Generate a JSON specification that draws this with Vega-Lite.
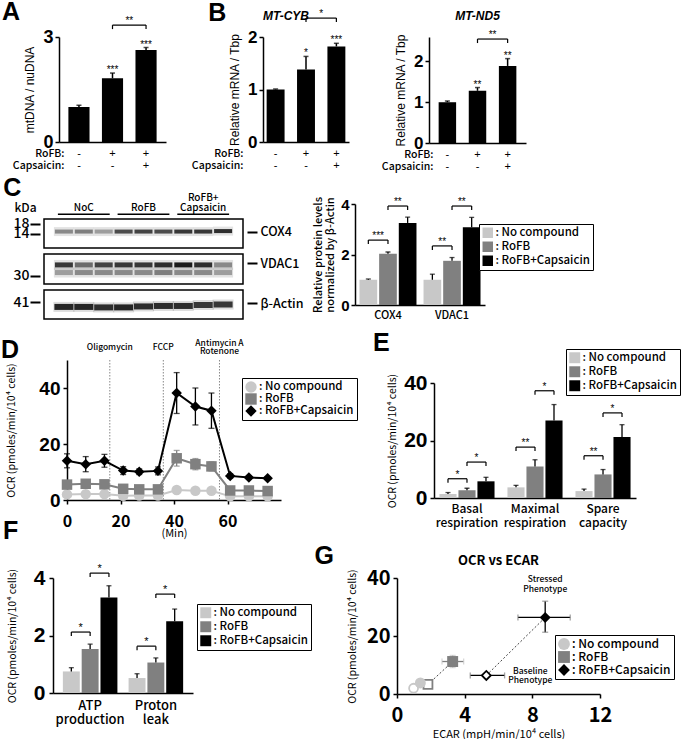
{
"$schema": "https://vega.github.io/schema/vega-lite/v6.json",
"padding": 0,
"background": "white",
"spacing": -20,
"resolve": {"scale": {"color": "independent", "shape": "independent", "opacity": "independent", "stroke": "independent", "fill": "independent", "xOffset": "independent", "x": "independent", "y": "independent"}, "legend": {"color": "independent", "shape": "independent", "opacity": "independent", "stroke": "independent", "fill": "independent"}},
"config": {
  "view": {"stroke": null},
  "font": "Liberation Sans",
  "axis": {"grid": false, "domainColor": "black", "tickColor": "black", "labelColor": "black", "titleColor": "black", "domainWidth": 1.5, "tickWidth": 1.5, "titleFontWeight": "normal", "labelFont": "Liberation Sans", "titleFont": "Liberation Sans", "labelOverlap": false, "labelBound": false, "labelFlush": false},
  "legend": {"labelColor": "black"},
  "title": {"color": "black", "font": "Liberation Sans", "fontWeight": "bold"},
  "text": {"color": "black", "font": "Liberation Sans"}
},
"vconcat": [
 {"hconcat": [
   {"width": 2, "height": 1, "data": {"values": []}, "mark": "point"},
   {
    "width": 107, "height": 105,
    "title": {"text": "A", "anchor": "start", "frame": "group", "dx": -57, "offset": -9, "fontSize": 25},
    "layer": [
     {"data": {"values": [
       {"cond": "NoC", "value": 1.0, "upper": 1.05, "rofb": "-", "cap": "-", "sig": ""},
       {"cond": "RoFB", "value": 1.82, "upper": 1.97, "rofb": "+", "cap": "-", "sig": "***"},
       {"cond": "RoFB+Capsaicin", "value": 2.63, "upper": 2.70, "rofb": "+", "cap": "+", "sig": "***"}]},
      "layer": [
       {"mark": {"type": "bar", "color": "black"},
        "encoding": {
         "x": {"field": "cond", "type": "nominal", "scale": {"domain": ["NoC", "RoFB", "RoFB+Capsaicin"], "paddingInner": 0.37, "paddingOuter": 0.28},
               "axis": {"labels": false, "ticks": false, "title": ["RoFB:", "Capsaicin:"], "titleX": 5, "titleY": 6, "titleAlign": "right", "titleBaseline": "top", "titleFontSize": 10.5, "titleLineHeight": 12, "titleFont": "Noto Sans CJK JP", "titleFontWeight": 500}},
         "y": {"field": "value", "type": "quantitative", "scale": {"domain": [0, 3]},
               "axis": {"values": [0, 1, 2, 3], "labelOverlap": false, "labelFontSize": 18, "labelFontWeight": "bold", "tickSize": 4, "labelPadding": 2, "title": "mtDNA / nuDNA", "titleFontSize": 12, "titlePadding": 6}}}},
       {"mark": {"type": "rule", "color": "black", "strokeWidth": 1.5},
        "encoding": {"x": {"field": "cond", "type": "nominal"}, "y": {"field": "value", "type": "quantitative"}, "y2": {"field": "upper"}}},
       {"mark": {"type": "tick", "orient": "horizontal", "color": "black", "size": 5, "thickness": 1.5},
        "encoding": {"x": {"field": "cond", "type": "nominal"}, "y": {"field": "upper", "type": "quantitative"}}},
       {"mark": {"type": "text", "baseline": "alphabetic", "dy": 0, "fontSize": 10},
        "encoding": {"x": {"field": "cond", "type": "nominal"}, "y": {"field": "upper", "type": "quantitative"}, "text": {"field": "sig"}}},
       {"mark": {"type": "text", "dy": 12, "fontSize": 11},
        "encoding": {"x": {"field": "cond", "type": "nominal"}, "y": {"datum": 0}, "text": {"field": "rofb"}}},
       {"mark": {"type": "text", "dy": 24, "fontSize": 11},
        "encoding": {"x": {"field": "cond", "type": "nominal"}, "y": {"datum": 0}, "text": {"field": "cap"}}}
      ]},
     {"data": {"values": [
       {"id": "a1", "cond": "RoFB", "level": 3.34, "sig": "**", "role": "from"},
       {"id": "a1", "cond": "RoFB+Capsaicin", "level": 3.34, "sig": "**", "role": "to"}]},
      "layer": [
       {"mark": {"type": "line", "color": "black", "strokeWidth": 1.2},
        "encoding": {"x": {"field": "cond", "type": "nominal"}, "y": {"field": "level", "type": "quantitative"}, "detail": {"field": "id"}}},
       {"mark": {"type": "rule", "color": "black", "strokeWidth": 1.2, "y2Offset": 4},
        "encoding": {"x": {"field": "cond", "type": "nominal"}, "y": {"field": "level", "type": "quantitative"}, "y2": {"field": "level"}}},
       {"transform": [{"filter": "datum.role == 'from'"}],
        "mark": {"type": "text", "baseline": "alphabetic", "dy": -1, "dx": 16.8, "fontSize": 10},
        "encoding": {"x": {"field": "cond", "type": "nominal"}, "y": {"field": "level", "type": "quantitative"}, "text": {"field": "sig"}}}
      ]}
    ]
   },
   {"width": 25, "height": 1, "data": {"values": []}, "mark": "point"},
   {"hconcat": [
     {
      "width": 86, "height": 105,
      "title": {"text": "MT-CYB", "anchor": "start", "frame": "group", "fontStyle": "italic", "fontSize": 12, "offset": -14},
      "layer": [
       {"data": {"values": [
         {"cond": "NoC", "value": 1.0, "upper": 1.01, "rofb": "-", "cap": "-", "sig": ""},
         {"cond": "RoFB", "value": 1.38, "upper": 1.63, "rofb": "+", "cap": "-", "sig": "*"},
         {"cond": "RoFB+Capsaicin", "value": 1.82, "upper": 1.88, "rofb": "+", "cap": "+", "sig": "***"}]},
        "layer": [
         {"mark": {"type": "bar", "color": "black"},
          "encoding": {
           "x": {"field": "cond", "type": "nominal", "scale": {"domain": ["NoC", "RoFB", "RoFB+Capsaicin"], "paddingInner": 0.41, "paddingOuter": 0.12},
                 "axis": {"labels": false, "ticks": false, "title": ["RoFB:", "Capsaicin:"], "titleX": -20, "titleY": 6, "titleAlign": "right", "titleBaseline": "top", "titleFontSize": 10.5, "titleLineHeight": 12, "titleFont": "Noto Sans CJK JP", "titleFontWeight": 500}},
           "y": {"field": "value", "type": "quantitative", "scale": {"domain": [0, 2]},
                 "axis": {"values": [0, 0.5, 1, 1.5, 2], "labelOverlap": false, "format": "~g", "labelFontSize": 17, "labelFontWeight": "bold", "tickSize": 4, "labelPadding": 2, "title": "Relative mRNA / Tbp", "titleFontSize": 12, "titlePadding": 6}}}},
         {"mark": {"type": "rule", "color": "black", "strokeWidth": 1.5},
          "encoding": {"x": {"field": "cond", "type": "nominal"}, "y": {"field": "value", "type": "quantitative"}, "y2": {"field": "upper"}}},
         {"mark": {"type": "tick", "orient": "horizontal", "color": "black", "size": 5, "thickness": 1.5},
          "encoding": {"x": {"field": "cond", "type": "nominal"}, "y": {"field": "upper", "type": "quantitative"}}},
         {"mark": {"type": "text", "baseline": "alphabetic", "dy": 0, "fontSize": 10},
          "encoding": {"x": {"field": "cond", "type": "nominal"}, "y": {"field": "upper", "type": "quantitative"}, "text": {"field": "sig"}}},
         {"mark": {"type": "text", "dy": 12, "fontSize": 11},
          "encoding": {"x": {"field": "cond", "type": "nominal"}, "y": {"datum": 0}, "text": {"field": "rofb"}}},
         {"mark": {"type": "text", "dy": 24, "fontSize": 11},
          "encoding": {"x": {"field": "cond", "type": "nominal"}, "y": {"datum": 0}, "text": {"field": "cap"}}}
        ]},
       {"data": {"values": [
         {"id": "b1", "cond": "RoFB", "level": 2.36, "sig": "*", "role": "from"},
         {"id": "b1", "cond": "RoFB+Capsaicin", "level": 2.36, "sig": "*", "role": "to"}]},
        "layer": [
         {"mark": {"type": "line", "color": "black", "strokeWidth": 1.2},
          "encoding": {"x": {"field": "cond", "type": "nominal"}, "y": {"field": "level", "type": "quantitative"}, "detail": {"field": "id"}}},
         {"mark": {"type": "rule", "color": "black", "strokeWidth": 1.2, "y2Offset": 4},
          "encoding": {"x": {"field": "cond", "type": "nominal"}, "y": {"field": "level", "type": "quantitative"}, "y2": {"field": "level"}}},
         {"transform": [{"filter": "datum.role == 'from'"}],
          "mark": {"type": "text", "baseline": "alphabetic", "dy": -1, "dx": 15.2, "fontSize": 10},
          "encoding": {"x": {"field": "cond", "type": "nominal"}, "y": {"field": "level", "type": "quantitative"}, "text": {"field": "sig"}}}
        ]}
      ]
     },
     {
      "width": 97, "height": 106,
      "title": {"text": "MT-ND5", "anchor": "middle", "frame": "group", "fontStyle": "italic", "fontSize": 12, "offset": 7},
      "layer": [
       {"data": {"values": [
         {"cond": "NoC", "value": 1.0, "upper": 1.03, "rofb": "-", "cap": "-", "sig": ""},
         {"cond": "RoFB", "value": 1.28, "upper": 1.36, "rofb": "+", "cap": "-", "sig": "**"},
         {"cond": "RoFB+Capsaicin", "value": 1.89, "upper": 2.07, "rofb": "+", "cap": "+", "sig": "**"}]},
        "layer": [
         {"mark": {"type": "bar", "color": "black"},
          "encoding": {
           "x": {"field": "cond", "type": "nominal", "scale": {"domain": ["NoC", "RoFB", "RoFB+Capsaicin"], "paddingInner": 0.42, "paddingOuter": 0.32},
                 "axis": {"labels": false, "ticks": false, "title": ["RoFB:", "Capsaicin:"], "titleX": 4, "titleY": 6, "titleAlign": "right", "titleBaseline": "top", "titleFontSize": 10.5, "titleLineHeight": 12, "titleFont": "Noto Sans CJK JP", "titleFontWeight": 500}},
           "y": {"field": "value", "type": "quantitative", "scale": {"domain": [0, 2.5]},
                 "axis": {"values": [0, 0.5, 1, 1.5, 2, 2.5], "labelOverlap": false, "format": "~g", "labelFontSize": 17, "labelFontWeight": "bold", "tickSize": 4, "labelPadding": 2, "title": "Relative mRNA / Tbp", "titleFontSize": 12, "titlePadding": 6}}}},
         {"mark": {"type": "rule", "color": "black", "strokeWidth": 1.5},
          "encoding": {"x": {"field": "cond", "type": "nominal"}, "y": {"field": "value", "type": "quantitative"}, "y2": {"field": "upper"}}},
         {"mark": {"type": "tick", "orient": "horizontal", "color": "black", "size": 5, "thickness": 1.5},
          "encoding": {"x": {"field": "cond", "type": "nominal"}, "y": {"field": "upper", "type": "quantitative"}}},
         {"mark": {"type": "text", "baseline": "alphabetic", "dy": 0, "fontSize": 10},
          "encoding": {"x": {"field": "cond", "type": "nominal"}, "y": {"field": "upper", "type": "quantitative"}, "text": {"field": "sig"}}},
         {"mark": {"type": "text", "dy": 12, "fontSize": 11},
          "encoding": {"x": {"field": "cond", "type": "nominal"}, "y": {"datum": 0}, "text": {"field": "rofb"}}},
         {"mark": {"type": "text", "dy": 24, "fontSize": 11},
          "encoding": {"x": {"field": "cond", "type": "nominal"}, "y": {"datum": 0}, "text": {"field": "cap"}}}
        ]},
       {"data": {"values": [
         {"id": "b2", "cond": "RoFB", "level": 2.55, "sig": "**", "role": "from"},
         {"id": "b2", "cond": "RoFB+Capsaicin", "level": 2.55, "sig": "**", "role": "to"}]},
        "layer": [
         {"mark": {"type": "line", "color": "black", "strokeWidth": 1.2},
          "encoding": {"x": {"field": "cond", "type": "nominal"}, "y": {"field": "level", "type": "quantitative"}, "detail": {"field": "id"}}},
         {"mark": {"type": "rule", "color": "black", "strokeWidth": 1.2, "y2Offset": 4},
          "encoding": {"x": {"field": "cond", "type": "nominal"}, "y": {"field": "level", "type": "quantitative"}, "y2": {"field": "level"}}},
         {"transform": [{"filter": "datum.role == 'from'"}],
          "mark": {"type": "text", "baseline": "alphabetic", "dy": -1, "dx": 15.1, "fontSize": 10},
          "encoding": {"x": {"field": "cond", "type": "nominal"}, "y": {"field": "level", "type": "quantitative"}, "text": {"field": "sig"}}}
        ]}
      ]
     }
    ],
    "spacing": 32,
    "resolve": {"scale": {"color": "independent", "shape": "independent", "opacity": "independent", "stroke": "independent", "fill": "independent", "xOffset": "independent", "x": "independent", "y": "independent"}, "legend": {"color": "independent", "shape": "independent", "opacity": "independent", "stroke": "independent", "fill": "independent"}},
    "title": {"text": "B", "anchor": "start", "frame": "bounds", "fontSize": 25, "dx": 17, "offset": 0, "dy": 17}
   }
  ],
  "spacing": 0,
  "resolve": {"scale": {"color": "independent", "shape": "independent", "opacity": "independent", "stroke": "independent", "fill": "independent", "xOffset": "independent", "x": "independent", "y": "independent"}, "legend": {"color": "independent", "shape": "independent", "opacity": "independent", "stroke": "independent", "fill": "independent"}}
 },
 {"width": 1, "height": 24, "data": {"values": []}, "mark": "point"},
 {"hconcat": [
   {"width": 3, "height": 1, "data": {"values": []}, "mark": "point"},
   {"vconcat": [
     {"width": 1, "height": 1, "data": {"values": []}, "mark": "point"},
     {"vconcat": [
       {
        "width": 199, "height": 29,
        "view": {"stroke": "black", "strokeWidth": 1.5},
        "layer": [
         {"data": {"values": [
           {"lane": 1, "kda": 14.8, "int": 0.45}, {"lane": 2, "kda": 14.8, "int": 0.5}, {"lane": 3, "kda": 14.8, "int": 0.35},
           {"lane": 4, "kda": 14.8, "int": 0.75}, {"lane": 5, "kda": 14.8, "int": 0.8}, {"lane": 6, "kda": 14.8, "int": 0.75},
           {"lane": 7, "kda": 14.8, "int": 0.85}, {"lane": 8, "kda": 14.8, "int": 0.85}, {"lane": 9, "kda": 15.0, "int": 0.9}]},
          "layer": [
           {"mark": {"type": "tick", "orient": "horizontal", "size": 20, "thickness": 9, "color": "#1a1a1a", "opacity": 0.12},
            "encoding": {"x": {"field": "lane", "type": "quantitative", "scale": {"domain": [0.5, 9.5]}, "axis": null},
                         "y": {"field": "kda", "type": "quantitative", "scale": {"domain": [8, 19.6]}, "axis": {"orient": "left", "values": [14, 18], "tickSize": 10, "tickWidth": 2, "offset": 4, "domain": false, "labelFontSize": 14, "labelFont": "Noto Sans CJK JP", "labelFontWeight": 500, "labelPadding": 1, "title": "kDa", "titleAngle": 0, "titleX": -15, "titleY": -12, "titleAlign": "center", "titleBaseline": "middle", "titleFontSize": 12, "titleFont": "Noto Sans CJK JP", "titleFontWeight": 500}}}},
           {"mark": {"type": "tick", "orient": "horizontal", "size": 18, "thickness": 4, "color": "#1a1a1a"},
            "encoding": {"x": {"field": "lane", "type": "quantitative", "axis": null},
                         "y": {"field": "kda", "type": "quantitative", "axis": {"orient": "right", "values": [14.8], "labelExpr": "'COX4'", "tickSize": 10, "tickWidth": 2, "offset": 4, "domain": false, "labelFontSize": 12.5, "labelFont": "Noto Sans CJK JP", "labelFontWeight": 500, "labelPadding": 3, "title": null}},
                         "opacity": {"field": "int", "type": "quantitative", "scale": {"domain": [0, 1], "range": [0, 1]}, "legend": null}}}
          ]},
         {"data": {"values": [
           {"grp": "NoC", "first": 1, "mid": 2, "last": 3, "line1": "", "line2": "NoC"},
           {"grp": "RoFB", "first": 4, "mid": 5, "last": 6, "line1": "", "line2": "RoFB"},
           {"grp": "RoFB+Capsaicin", "first": 7, "mid": 8, "last": 9, "line1": "RoFB+", "line2": "Capsaicin"}]},
          "layer": [
           {"mark": {"type": "rule", "color": "black", "strokeWidth": 1.5, "xOffset": -6, "x2Offset": 6},
            "encoding": {"x": {"field": "first", "type": "quantitative", "axis": null}, "x2": {"field": "last"}, "y": {"datum": 22.0, "type": "quantitative", "axis": null}}},
           {"mark": {"type": "text", "baseline": "middle", "dy": -6, "fontSize": 10, "font": "Noto Sans CJK JP", "fontWeight": 500},
            "encoding": {"x": {"field": "mid", "type": "quantitative", "axis": null}, "y": {"datum": 22.0, "type": "quantitative", "axis": null}, "text": {"field": "line2"}}},
           {"mark": {"type": "text", "baseline": "middle", "dy": -16, "fontSize": 10, "font": "Noto Sans CJK JP", "fontWeight": 500},
            "encoding": {"x": {"field": "mid", "type": "quantitative", "axis": null}, "y": {"datum": 22.0, "type": "quantitative", "axis": null}, "text": {"field": "line1"}}}
          ]}
        ],
        "resolve": {"axis": {"y": "independent"}}
       },
       {
        "width": 199, "height": 30,
        "view": {"stroke": "black", "strokeWidth": 1.5},
        "data": {"values": [
          {"lane": 1, "kda": 32.0, "int": 0.85}, {"lane": 2, "kda": 32.0, "int": 0.6}, {"lane": 3, "kda": 32.0, "int": 0.8},
          {"lane": 4, "kda": 32.0, "int": 0.85}, {"lane": 5, "kda": 32.0, "int": 0.85}, {"lane": 6, "kda": 32.0, "int": 0.9},
          {"lane": 7, "kda": 32.0, "int": 1.0}, {"lane": 8, "kda": 32.0, "int": 0.9}, {"lane": 9, "kda": 32.0, "int": 0.45},
          {"lane": 1, "kda": 30.6, "int": 0.35}, {"lane": 2, "kda": 30.6, "int": 0.45}, {"lane": 3, "kda": 30.6, "int": 0.45},
          {"lane": 4, "kda": 30.6, "int": 0.45}, {"lane": 5, "kda": 30.6, "int": 0.45}, {"lane": 6, "kda": 30.6, "int": 0.5},
          {"lane": 7, "kda": 30.6, "int": 0.45}, {"lane": 8, "kda": 30.6, "int": 0.45}, {"lane": 9, "kda": 30.6, "int": 0.35}]},
        "layer": [
         {"mark": {"type": "tick", "orient": "horizontal", "size": 20, "thickness": 10, "color": "#1a1a1a", "opacity": 0.12},
          "encoding": {"x": {"field": "lane", "type": "quantitative", "scale": {"domain": [0.5, 9.5]}, "axis": null},
                       "y": {"field": "kda", "type": "quantitative", "scale": {"domain": [28.67, 33.67]}, "axis": {"orient": "left", "values": [30], "tickSize": 10, "tickWidth": 2, "offset": 4, "domain": false, "labelFontSize": 14, "labelFont": "Noto Sans CJK JP", "labelFontWeight": 500, "labelPadding": 1, "title": null}}}},
         {"mark": {"type": "tick", "orient": "horizontal", "size": 18, "thickness": 5, "color": "#1a1a1a"},
          "encoding": {"x": {"field": "lane", "type": "quantitative", "axis": null},
                       "y": {"field": "kda", "type": "quantitative", "axis": {"orient": "right", "values": [32.33], "labelExpr": "'VDAC1'", "tickSize": 10, "tickWidth": 2, "offset": 4, "domain": false, "labelFontSize": 12.5, "labelFont": "Noto Sans CJK JP", "labelFontWeight": 500, "labelPadding": 3, "title": null}},
                       "opacity": {"field": "int", "type": "quantitative", "scale": {"domain": [0, 1], "range": [0, 1]}, "legend": null}}}
        ],
        "resolve": {"axis": {"y": "independent"}}
       },
       {
        "width": 199, "height": 29,
        "view": {"stroke": "black", "strokeWidth": 1.5},
        "data": {"values": [
          {"lane": 1, "kda": 40.0, "int": 0.95}, {"lane": 2, "kda": 40.0, "int": 0.95}, {"lane": 3, "kda": 39.9, "int": 0.9},
          {"lane": 4, "kda": 39.9, "int": 0.95}, {"lane": 5, "kda": 40.1, "int": 0.9}, {"lane": 6, "kda": 40.2, "int": 0.9},
          {"lane": 7, "kda": 40.2, "int": 0.9}, {"lane": 8, "kda": 40.4, "int": 0.85}, {"lane": 9, "kda": 40.5, "int": 0.85}]},
        "layer": [
         {"mark": {"type": "tick", "orient": "horizontal", "size": 21, "thickness": 10, "color": "#1a1a1a", "opacity": 0.15},
          "encoding": {"x": {"field": "lane", "type": "quantitative", "scale": {"domain": [0.5, 9.5]}, "axis": null},
                       "y": {"field": "kda", "type": "quantitative", "scale": {"domain": [37.6, 43.4]}, "axis": {"orient": "left", "values": [41], "tickSize": 10, "tickWidth": 2, "offset": 4, "domain": false, "labelFontSize": 14, "labelFont": "Noto Sans CJK JP", "labelFontWeight": 500, "labelPadding": 1, "title": null}}}},
         {"mark": {"type": "tick", "orient": "horizontal", "size": 19, "thickness": 6, "color": "#1a1a1a"},
          "encoding": {"x": {"field": "lane", "type": "quantitative", "axis": null},
                       "y": {"field": "kda", "type": "quantitative", "axis": {"orient": "right", "values": [40.8], "labelExpr": "'β-Actin'", "tickSize": 10, "tickWidth": 2, "offset": 4, "domain": false, "labelFontSize": 12.5, "labelFont": "Noto Sans CJK JP", "labelFontWeight": 500, "labelPadding": 3, "title": null}},
                       "opacity": {"field": "int", "type": "quantitative", "scale": {"domain": [0, 1], "range": [0, 1]}, "legend": null}}}
        ],
        "resolve": {"axis": {"y": "independent"}}
       }
      ],
      "spacing": 4,
      "resolve": {"scale": {"color": "independent", "shape": "independent", "opacity": "independent", "stroke": "independent", "fill": "independent", "xOffset": "independent", "x": "independent", "y": "independent"}, "legend": {"color": "independent", "shape": "independent", "opacity": "independent", "stroke": "independent", "fill": "independent"}},
      "title": {"text": "C", "anchor": "start", "frame": "bounds", "fontSize": 25, "dx": -9, "offset": 0, "dy": 9}
     }
    ],
    "spacing": -29,
    "resolve": {"scale": {"color": "independent", "shape": "independent", "opacity": "independent", "stroke": "independent", "fill": "independent", "xOffset": "independent", "x": "independent", "y": "independent"}, "legend": {"color": "independent", "shape": "independent", "opacity": "independent", "stroke": "independent", "fill": "independent"}}
   },
   {"width": 8, "height": 1, "data": {"values": []}, "mark": "point"},
   {
    "width": 130, "height": 101,
    "layer": [
     {"data": {"values": [
       {"grp": "COX4", "cond": "No compound", "value": 1.0, "upper": 1.03},
       {"grp": "COX4", "cond": "RoFB", "value": 2.03, "upper": 2.1},
       {"grp": "COX4", "cond": "RoFB+Capsaicin", "value": 3.25, "upper": 3.48},
       {"grp": "VDAC1", "cond": "No compound", "value": 1.0, "upper": 1.22},
       {"grp": "VDAC1", "cond": "RoFB", "value": 1.75, "upper": 1.88},
       {"grp": "VDAC1", "cond": "RoFB+Capsaicin", "value": 3.08, "upper": 3.47}]},
      "layer": [
       {"mark": {"type": "bar"},
        "encoding": {
         "x": {"field": "grp", "type": "nominal", "scale": {"domain": ["COX4", "VDAC1"], "paddingInner": 0.11, "paddingOuter": 0.07},
               "axis": {"title": null, "ticks": false, "labelAngle": 0, "labelFontSize": 11, "labelFont": "Noto Sans CJK JP", "labelFontWeight": 500, "labelPadding": 4}},
         "xOffset": {"field": "cond", "type": "nominal", "scale": {"domain": ["No compound", "RoFB", "RoFB+Capsaicin"], "paddingInner": 0.1, "paddingOuter": 0}},
         "y": {"field": "value", "type": "quantitative", "stack": null, "scale": {"domain": [0, 4]},
               "axis": {"values": [0, 1, 2, 3, 4], "labelOverlap": false, "labelFontSize": 15, "labelFontWeight": "bold", "tickSize": 4, "labelPadding": 2, "title": ["Relative protein levels", "normalized by β-Actin"], "titleFontSize": 11, "titleFont": "Noto Sans CJK JP", "titleFontWeight": 500, "titleLineHeight": 12, "titlePadding": 5}},
         "color": {"field": "cond", "type": "nominal", "scale": {"domain": ["No compound", "RoFB", "RoFB+Capsaicin"], "range": ["#c8c8c8", "#808080", "#000000"]},
                   "legend": {"orient": "none", "legendX": 124, "legendY": 20, "title": null, "symbolType": "square", "symbolSize": 110, "symbolStrokeWidth": 0, "labelExpr": "': ' + datum.label", "labelFontSize": 11.5, "labelFont": "Noto Sans CJK JP", "labelFontWeight": 500, "strokeColor": "black", "fillColor": "white", "padding": 3, "rowPadding": 1, "labelOffset": 2}}}},
       {"mark": {"type": "rule", "color": "black", "strokeWidth": 1.3},
        "encoding": {"x": {"field": "grp", "type": "nominal"}, "xOffset": {"field": "cond", "type": "nominal"}, "y": {"field": "value", "type": "quantitative"}, "y2": {"field": "upper"}}},
       {"mark": {"type": "tick", "orient": "horizontal", "color": "black", "size": 5, "thickness": 1.3},
        "encoding": {"x": {"field": "grp", "type": "nominal"}, "xOffset": {"field": "cond", "type": "nominal"}, "y": {"field": "upper", "type": "quantitative"}}}
      ]},
     {"data": {"values": [
       {"id": "c1", "grp": "COX4", "cond": "No compound", "level": 2.57, "sig": "***", "role": "from"},
       {"id": "c1", "grp": "COX4", "cond": "RoFB", "level": 2.57, "sig": "***", "role": "to"},
       {"id": "c2", "grp": "COX4", "cond": "RoFB", "level": 3.92, "sig": "**", "role": "from"},
       {"id": "c2", "grp": "COX4", "cond": "RoFB+Capsaicin", "level": 3.92, "sig": "**", "role": "to"},
       {"id": "v1", "grp": "VDAC1", "cond": "No compound", "level": 2.34, "sig": "**", "role": "from"},
       {"id": "v1", "grp": "VDAC1", "cond": "RoFB", "level": 2.34, "sig": "**", "role": "to"},
       {"id": "v2", "grp": "VDAC1", "cond": "RoFB", "level": 3.92, "sig": "**", "role": "from"},
       {"id": "v2", "grp": "VDAC1", "cond": "RoFB+Capsaicin", "level": 3.92, "sig": "**", "role": "to"}]},
      "layer": [
       {"mark": {"type": "line", "color": "black", "strokeWidth": 1.2},
        "encoding": {"x": {"field": "grp", "type": "nominal"}, "xOffset": {"field": "cond", "type": "nominal"}, "y": {"field": "level", "type": "quantitative"}, "detail": {"field": "id"}}},
       {"mark": {"type": "rule", "color": "black", "strokeWidth": 1.2, "y2Offset": 4},
        "encoding": {"x": {"field": "grp", "type": "nominal"}, "xOffset": {"field": "cond", "type": "nominal"}, "y": {"field": "level", "type": "quantitative"}, "y2": {"field": "level"}}},
       {"transform": [{"filter": "datum.role == 'from'"}],
        "mark": {"type": "text", "baseline": "alphabetic", "dy": -1, "dx": 9.8, "fontSize": 10},
        "encoding": {"x": {"field": "grp", "type": "nominal"}, "xOffset": {"field": "cond", "type": "nominal"}, "y": {"field": "level", "type": "quantitative"}, "text": {"field": "sig"}}}
      ]}
    ]
   }
  ],
  "spacing": 0,
  "resolve": {"scale": {"color": "independent", "shape": "independent", "opacity": "independent", "stroke": "independent", "fill": "independent", "xOffset": "independent", "x": "independent", "y": "independent"}, "legend": {"color": "independent", "shape": "independent", "opacity": "independent", "stroke": "independent", "fill": "independent"}}
 },
 {"width": 1, "height": 30, "data": {"values": []}, "mark": "point"},
 {"hconcat": [
   {"width": 1, "height": 1, "data": {"values": []}, "mark": "point"},
   {
    "width": 214, "height": 140,
    "title": {"text": "D", "anchor": "start", "frame": "group", "dx": -66, "offset": 2, "dy": 26, "fontSize": 25},
    "layer": [
     {"data": {"values": [
       {"t": 16, "top": "", "mid": "Oligomycin", "bot": ""},
       {"t": 36, "top": "", "mid": "FCCP", "bot": ""},
       {"t": 57, "top": "Antimycin A", "mid": "", "bot": "Rotenone"}]},
      "layer": [
       {"mark": {"type": "rule", "color": "#888888", "strokeWidth": 1, "strokeDash": [1.5, 1.5]},
        "encoding": {"x": {"field": "t", "type": "quantitative"}}},
       {"mark": {"type": "text", "baseline": "middle", "dy": -17, "fontSize": 8.5, "font": "Noto Sans CJK JP", "fontWeight": 500},
        "encoding": {"x": {"field": "t", "type": "quantitative"}, "y": {"datum": 50, "type": "quantitative"}, "text": {"field": "top"}}},
       {"mark": {"type": "text", "baseline": "middle", "dy": -13, "fontSize": 8.5, "font": "Noto Sans CJK JP", "fontWeight": 500},
        "encoding": {"x": {"field": "t", "type": "quantitative"}, "y": {"datum": 50, "type": "quantitative"}, "text": {"field": "mid"}}},
       {"mark": {"type": "text", "baseline": "middle", "dy": -9.5, "fontSize": 8.5, "font": "Noto Sans CJK JP", "fontWeight": 500},
        "encoding": {"x": {"field": "t", "type": "quantitative"}, "y": {"datum": 50, "type": "quantitative"}, "text": {"field": "bot"}}}
      ]},
     {"data": {"values": [
       {"s": "No compound", "t": 0, "v": 2.0, "lo": 1.7, "hi": 2.3},
       {"s": "No compound", "t": 7, "v": 2.1, "lo": 1.8, "hi": 2.4},
       {"s": "No compound", "t": 14, "v": 2.1, "lo": 1.8, "hi": 2.4},
       {"s": "No compound", "t": 21, "v": 1.5, "lo": 1.2, "hi": 1.8},
       {"s": "No compound", "t": 27, "v": 1.6, "lo": 1.3, "hi": 1.9},
       {"s": "No compound", "t": 34, "v": 1.6, "lo": 1.3, "hi": 1.9},
       {"s": "No compound", "t": 41, "v": 3.6, "lo": 3.2, "hi": 4.0},
       {"s": "No compound", "t": 48, "v": 3.3, "lo": 2.9, "hi": 3.7},
       {"s": "No compound", "t": 54, "v": 3.3, "lo": 2.9, "hi": 3.7},
       {"s": "No compound", "t": 61, "v": 1.3, "lo": 1.0, "hi": 1.6},
       {"s": "No compound", "t": 68, "v": 1.3, "lo": 1.0, "hi": 1.6},
       {"s": "No compound", "t": 75, "v": 1.3, "lo": 1.0, "hi": 1.6},
       {"s": "RoFB", "t": 0, "v": 5.5, "lo": 4.6, "hi": 6.4},
       {"s": "RoFB", "t": 7, "v": 5.8, "lo": 4.9, "hi": 6.7},
       {"s": "RoFB", "t": 14, "v": 5.6, "lo": 4.7, "hi": 6.5},
       {"s": "RoFB", "t": 21, "v": 4.0, "lo": 3.4, "hi": 4.6},
       {"s": "RoFB", "t": 27, "v": 3.8, "lo": 3.2, "hi": 4.4},
       {"s": "RoFB", "t": 34, "v": 3.8, "lo": 3.2, "hi": 4.4},
       {"s": "RoFB", "t": 41, "v": 14.9, "lo": 12.1, "hi": 17.7},
       {"s": "RoFB", "t": 48, "v": 12.8, "lo": 10.8, "hi": 14.8},
       {"s": "RoFB", "t": 54, "v": 12.0, "lo": 10.4, "hi": 13.6},
       {"s": "RoFB", "t": 61, "v": 3.4, "lo": 2.9, "hi": 3.9},
       {"s": "RoFB", "t": 68, "v": 3.4, "lo": 2.9, "hi": 3.9},
       {"s": "RoFB", "t": 75, "v": 3.2, "lo": 2.7, "hi": 3.7},
       {"s": "RoFB+Capsaicin", "t": 0, "v": 14.0, "lo": 11.5, "hi": 16.5},
       {"s": "RoFB+Capsaicin", "t": 7, "v": 12.8, "lo": 10.1, "hi": 15.5},
       {"s": "RoFB+Capsaicin", "t": 14, "v": 14.0, "lo": 11.7, "hi": 16.3},
       {"s": "RoFB+Capsaicin", "t": 21, "v": 10.5, "lo": 9.1, "hi": 11.9},
       {"s": "RoFB+Capsaicin", "t": 27, "v": 10.1, "lo": 9.1, "hi": 11.1},
       {"s": "RoFB+Capsaicin", "t": 34, "v": 10.4, "lo": 9.0, "hi": 11.8},
       {"s": "RoFB+Capsaicin", "t": 41, "v": 38.2, "lo": 30.9, "hi": 45.5},
       {"s": "RoFB+Capsaicin", "t": 48, "v": 33.4, "lo": 26.8, "hi": 40.0},
       {"s": "RoFB+Capsaicin", "t": 54, "v": 31.9, "lo": 25.6, "hi": 38.2},
       {"s": "RoFB+Capsaicin", "t": 61, "v": 8.6, "lo": 7.8, "hi": 9.4},
       {"s": "RoFB+Capsaicin", "t": 68, "v": 8.0, "lo": 7.5, "hi": 8.5},
       {"s": "RoFB+Capsaicin", "t": 75, "v": 7.8, "lo": 7.3, "hi": 8.3}]},
      "layer": [
       {"mark": {"type": "line", "strokeWidth": 2},
        "encoding": {
         "x": {"field": "t", "type": "quantitative", "scale": {"domain": [0, 77]},
               "axis": {"values": [0, 10, 20, 30, 40, 50, 60, 70], "labelOverlap": false, "labelFontSize": 16, "labelFont": "Noto Sans CJK JP", "labelFontWeight": "bold", "tickSize": 4, "labelPadding": 9, "title": "(Min)", "titleFont": "Noto Sans CJK JP", "titleFontSize": 11, "titlePadding": -2}},
         "y": {"field": "v", "type": "quantitative", "scale": {"domain": [0, 50]},
               "axis": {"values": [0, 10, 20, 30, 40, 50], "labelOverlap": false, "labelFontSize": 19, "labelFontWeight": "bold", "tickSize": 4, "labelPadding": 3, "title": "OCR (pmoles/min/10⁴ cells)", "titleFont": "Noto Sans CJK JP", "titleFontSize": 10.5, "titlePadding": 22}},
         "stroke": {"field": "s", "type": "nominal", "scale": {"range": ["#c8c8c8", "#808080", "#000000"]}, "legend": null}}},
       {"mark": {"type": "rule", "strokeWidth": 1.3},
        "encoding": {"x": {"field": "t", "type": "quantitative"}, "y": {"field": "lo", "type": "quantitative"}, "y2": {"field": "hi"}, "stroke": {"field": "s", "type": "nominal", "legend": null}}},
       {"mark": {"type": "tick", "orient": "horizontal", "size": 6, "thickness": 1.3},
        "encoding": {"x": {"field": "t", "type": "quantitative"}, "y": {"field": "lo", "type": "quantitative"}, "fill": {"field": "s", "type": "nominal", "scale": {"range": ["#c8c8c8", "#808080", "#000000"]}, "legend": null}}},
       {"mark": {"type": "tick", "orient": "horizontal", "size": 6, "thickness": 1.3},
        "encoding": {"x": {"field": "t", "type": "quantitative"}, "y": {"field": "hi", "type": "quantitative"}, "fill": {"field": "s", "type": "nominal", "legend": null}}},
       {"mark": {"type": "point", "filled": true, "size": 110, "opacity": 1},
        "encoding": {"x": {"field": "t", "type": "quantitative"}, "y": {"field": "v", "type": "quantitative"},
         "color": {"field": "s", "type": "nominal", "scale": {"domain": ["No compound", "RoFB", "RoFB+Capsaicin"], "range": ["#c8c8c8", "#808080", "#000000"]}, "legend": {"orient": "none", "legendX": 175, "legendY": 18, "title": null, "labelExpr": "': ' + datum.label", "labelFont": "Noto Sans CJK JP", "labelFontWeight": 500, "labelFontSize": 11.5, "symbolSize": 130, "symbolStrokeWidth": 0, "strokeColor": "black", "fillColor": "white", "padding": 3, "rowPadding": 0, "labelOffset": 2}},
         "shape": {"field": "s", "type": "nominal", "scale": {"domain": ["No compound", "RoFB", "RoFB+Capsaicin"], "range": ["circle", "square", "diamond"]}, "legend": {"orient": "none", "legendX": 175, "legendY": 18, "title": null, "labelExpr": "': ' + datum.label", "labelFont": "Noto Sans CJK JP", "labelFontWeight": 500, "labelFontSize": 11.5, "symbolSize": 130, "symbolStrokeWidth": 0, "strokeColor": "black", "fillColor": "white", "padding": 3, "rowPadding": 0, "labelOffset": 2}}}}
      ]}
    ]
   },
   {"width": 15, "height": 1, "data": {"values": []}, "mark": "point"},
   {"vconcat": [
     {"width": 1, "height": 1, "data": {"values": []}, "mark": "point"},
     {
      "width": 202, "height": 115,
      "title": {"text": "E", "anchor": "start", "frame": "group", "dx": -61, "offset": -7, "fontSize": 25},
      "layer": [
       {"data": {"values": [
         {"grp": "Basal respiration", "cond": "No compound", "value": 1.4, "upper": 1.9},
         {"grp": "Basal respiration", "cond": "RoFB", "value": 2.7, "upper": 3.4},
         {"grp": "Basal respiration", "cond": "RoFB+Capsaicin", "value": 5.8, "upper": 7.2},
         {"grp": "Maximal respiration", "cond": "No compound", "value": 3.7, "upper": 4.4},
         {"grp": "Maximal respiration", "cond": "RoFB", "value": 11.0, "upper": 13.3},
         {"grp": "Maximal respiration", "cond": "RoFB+Capsaicin", "value": 27.0, "upper": 32.5},
         {"grp": "Spare capacity", "cond": "No compound", "value": 2.4, "upper": 3.1},
         {"grp": "Spare capacity", "cond": "RoFB", "value": 8.2, "upper": 9.9},
         {"grp": "Spare capacity", "cond": "RoFB+Capsaicin", "value": 21.2, "upper": 25.5}]},
        "layer": [
         {"mark": {"type": "bar"},
          "encoding": {
           "x": {"field": "grp", "type": "nominal", "scale": {"domain": ["Basal respiration", "Maximal respiration", "Spare capacity"], "paddingInner": 0.19, "paddingOuter": 0.08},
                 "axis": {"title": null, "ticks": false, "labelAngle": 0, "labelExpr": "split(datum.label, ' ')", "labelFontSize": 12, "labelLineHeight": 14, "labelFont": "Noto Sans CJK JP", "labelFontWeight": 500, "labelPadding": 5}},
           "xOffset": {"field": "cond", "type": "nominal", "scale": {"domain": ["No compound", "RoFB", "RoFB+Capsaicin"], "paddingInner": 0.1, "paddingOuter": 0}},
           "y": {"field": "value", "type": "quantitative", "stack": null, "scale": {"domain": [0, 40]},
                 "axis": {"values": [0, 10, 20, 30, 40], "labelOverlap": false, "labelFontSize": 21, "labelFontWeight": "bold", "tickSize": 4, "labelPadding": 3, "title": "OCR (pmoles/min/10⁴ cells)", "titleFont": "Noto Sans CJK JP", "titleFontSize": 10.5, "titlePadding": 6}},
           "color": {"field": "cond", "type": "nominal", "scale": {"domain": ["No compound", "RoFB", "RoFB+Capsaicin"], "range": ["#c8c8c8", "#808080", "#000000"]},
                     "legend": {"orient": "none", "legendX": 132, "legendY": -34, "title": null, "symbolType": "square", "symbolSize": 120, "symbolStrokeWidth": 0, "labelExpr": "': ' + datum.label", "labelFontSize": 11.5, "labelFont": "Noto Sans CJK JP", "labelFontWeight": 500, "strokeColor": "black", "fillColor": "white", "padding": 3, "rowPadding": 1, "labelOffset": 2}}}},
         {"mark": {"type": "rule", "color": "black", "strokeWidth": 1.3},
          "encoding": {"x": {"field": "grp", "type": "nominal"}, "xOffset": {"field": "cond", "type": "nominal"}, "y": {"field": "value", "type": "quantitative"}, "y2": {"field": "upper"}}},
         {"mark": {"type": "tick", "orient": "horizontal", "color": "black", "size": 5, "thickness": 1.3},
          "encoding": {"x": {"field": "grp", "type": "nominal"}, "xOffset": {"field": "cond", "type": "nominal"}, "y": {"field": "upper", "type": "quantitative"}}}
        ]},
       {"data": {"values": [
         {"id": "e1", "grp": "Basal respiration", "cond": "No compound", "level": 6.7, "sig": "*", "role": "from"},
         {"id": "e1", "grp": "Basal respiration", "cond": "RoFB", "level": 6.7, "sig": "*", "role": "to"},
         {"id": "e2", "grp": "Basal respiration", "cond": "RoFB", "level": 12.5, "sig": "*", "role": "from"},
         {"id": "e2", "grp": "Basal respiration", "cond": "RoFB+Capsaicin", "level": 12.5, "sig": "*", "role": "to"},
         {"id": "e3", "grp": "Maximal respiration", "cond": "No compound", "level": 17.7, "sig": "**", "role": "from"},
         {"id": "e3", "grp": "Maximal respiration", "cond": "RoFB", "level": 17.7, "sig": "**", "role": "to"},
         {"id": "e4", "grp": "Maximal respiration", "cond": "RoFB", "level": 37.3, "sig": "*", "role": "from"},
         {"id": "e4", "grp": "Maximal respiration", "cond": "RoFB+Capsaicin", "level": 37.3, "sig": "*", "role": "to"},
         {"id": "e5", "grp": "Spare capacity", "cond": "No compound", "level": 14.7, "sig": "**", "role": "from"},
         {"id": "e5", "grp": "Spare capacity", "cond": "RoFB", "level": 14.7, "sig": "**", "role": "to"},
         {"id": "e6", "grp": "Spare capacity", "cond": "RoFB", "level": 29.6, "sig": "*", "role": "from"},
         {"id": "e6", "grp": "Spare capacity", "cond": "RoFB+Capsaicin", "level": 29.6, "sig": "*", "role": "to"}]},
        "layer": [
         {"mark": {"type": "line", "color": "black", "strokeWidth": 1.2},
          "encoding": {"x": {"field": "grp", "type": "nominal"}, "xOffset": {"field": "cond", "type": "nominal"}, "y": {"field": "level", "type": "quantitative"}, "detail": {"field": "id"}}},
         {"mark": {"type": "rule", "color": "black", "strokeWidth": 1.2, "y2Offset": 4},
          "encoding": {"x": {"field": "grp", "type": "nominal"}, "xOffset": {"field": "cond", "type": "nominal"}, "y": {"field": "level", "type": "quantitative"}, "y2": {"field": "level"}}},
         {"transform": [{"filter": "datum.role == 'from'"}],
          "mark": {"type": "text", "baseline": "alphabetic", "dy": -1, "dx": 9.5, "fontSize": 10},
          "encoding": {"x": {"field": "grp", "type": "nominal"}, "xOffset": {"field": "cond", "type": "nominal"}, "y": {"field": "level", "type": "quantitative"}, "text": {"field": "sig"}}}
        ]}
      ]
     }
    ],
    "spacing": -31,
    "resolve": {"scale": {"color": "independent", "shape": "independent", "opacity": "independent", "stroke": "independent", "fill": "independent", "xOffset": "independent", "x": "independent", "y": "independent"}, "legend": {"color": "independent", "shape": "independent", "opacity": "independent", "stroke": "independent", "fill": "independent"}}
   }
  ],
  "spacing": 0,
  "resolve": {"scale": {"color": "independent", "shape": "independent", "opacity": "independent", "stroke": "independent", "fill": "independent", "xOffset": "independent", "x": "independent", "y": "independent"}, "legend": {"color": "independent", "shape": "independent", "opacity": "independent", "stroke": "independent", "fill": "independent"}}
 },
 {"width": 1, "height": 1, "data": {"values": []}, "mark": "point"},
 {"hconcat": [
   {"width": 3, "height": 1, "data": {"values": []}, "mark": "point"},
   {
    "width": 140, "height": 115,
    "title": {"text": "F", "anchor": "start", "frame": "group", "dx": -50, "offset": 18, "dy": -1, "fontSize": 25},
    "layer": [
     {"data": {"values": [
       {"grp": "ATP production", "cond": "No compound", "value": 0.75, "upper": 0.88},
       {"grp": "ATP production", "cond": "RoFB", "value": 1.53, "upper": 1.70},
       {"grp": "ATP production", "cond": "RoFB+Capsaicin", "value": 3.32, "upper": 3.73},
       {"grp": "Proton leak", "cond": "No compound", "value": 0.52, "upper": 0.67},
       {"grp": "Proton leak", "cond": "RoFB", "value": 1.06, "upper": 1.22},
       {"grp": "Proton leak", "cond": "RoFB+Capsaicin", "value": 2.50, "upper": 2.92}]},
      "layer": [
       {"mark": {"type": "bar"},
        "encoding": {
         "x": {"field": "grp", "type": "nominal", "scale": {"domain": ["ATP production", "Proton leak"], "paddingInner": 0.17, "paddingOuter": 0.15},
               "axis": {"title": null, "ticks": false, "labelAngle": 0, "labelExpr": "split(datum.label, ' ')", "labelFontSize": 13, "labelLineHeight": 14, "labelFont": "Noto Sans CJK JP", "labelFontWeight": 500, "labelPadding": 6}},
         "xOffset": {"field": "cond", "type": "nominal", "scale": {"domain": ["No compound", "RoFB", "RoFB+Capsaicin"], "paddingInner": 0.1, "paddingOuter": 0}},
         "y": {"field": "value", "type": "quantitative", "stack": null, "scale": {"domain": [0, 4]},
               "axis": {"values": [0, 1, 2, 3, 4], "labelOverlap": false, "labelFontSize": 21, "labelFontWeight": "bold", "tickSize": 4, "labelPadding": 4, "title": "OCR (pmoles/min/10⁴ cells)", "titleFont": "Noto Sans CJK JP", "titleFontSize": 10.5, "titlePadding": 16}},
         "color": {"field": "cond", "type": "nominal", "scale": {"domain": ["No compound", "RoFB", "RoFB+Capsaicin"], "range": ["#c8c8c8", "#808080", "#000000"]},
                   "legend": {"orient": "none", "legendX": 144, "legendY": 26, "title": null, "symbolType": "square", "symbolSize": 120, "symbolStrokeWidth": 0, "labelExpr": "': ' + datum.label", "labelFontSize": 11.5, "labelFont": "Noto Sans CJK JP", "labelFontWeight": 500, "strokeColor": "black", "fillColor": "white", "padding": 3, "rowPadding": 1, "labelOffset": 2}}}},
       {"mark": {"type": "rule", "color": "black", "strokeWidth": 1.3},
        "encoding": {"x": {"field": "grp", "type": "nominal"}, "xOffset": {"field": "cond", "type": "nominal"}, "y": {"field": "value", "type": "quantitative"}, "y2": {"field": "upper"}}},
       {"mark": {"type": "tick", "orient": "horizontal", "color": "black", "size": 5, "thickness": 1.3},
        "encoding": {"x": {"field": "grp", "type": "nominal"}, "xOffset": {"field": "cond", "type": "nominal"}, "y": {"field": "upper", "type": "quantitative"}}}
      ]},
     {"data": {"values": [
       {"id": "f1", "grp": "ATP production", "cond": "No compound", "level": 2.12, "sig": "*", "role": "from"},
       {"id": "f1", "grp": "ATP production", "cond": "RoFB", "level": 2.12, "sig": "*", "role": "to"},
       {"id": "f2", "grp": "ATP production", "cond": "RoFB", "level": 4.17, "sig": "*", "role": "from"},
       {"id": "f2", "grp": "ATP production", "cond": "RoFB+Capsaicin", "level": 4.17, "sig": "*", "role": "to"},
       {"id": "f3", "grp": "Proton leak", "cond": "No compound", "level": 1.63, "sig": "*", "role": "from"},
       {"id": "f3", "grp": "Proton leak", "cond": "RoFB", "level": 1.63, "sig": "*", "role": "to"},
       {"id": "f4", "grp": "Proton leak", "cond": "RoFB", "level": 3.44, "sig": "*", "role": "from"},
       {"id": "f4", "grp": "Proton leak", "cond": "RoFB+Capsaicin", "level": 3.44, "sig": "*", "role": "to"}]},
      "layer": [
       {"mark": {"type": "line", "color": "black", "strokeWidth": 1.2},
        "encoding": {"x": {"field": "grp", "type": "nominal"}, "xOffset": {"field": "cond", "type": "nominal"}, "y": {"field": "level", "type": "quantitative"}, "detail": {"field": "id"}}},
       {"mark": {"type": "rule", "color": "black", "strokeWidth": 1.2, "y2Offset": 4},
        "encoding": {"x": {"field": "grp", "type": "nominal"}, "xOffset": {"field": "cond", "type": "nominal"}, "y": {"field": "level", "type": "quantitative"}, "y2": {"field": "level"}}},
       {"transform": [{"filter": "datum.role == 'from'"}],
        "mark": {"type": "text", "baseline": "alphabetic", "dy": -1, "dx": 9.4, "fontSize": 11},
        "encoding": {"x": {"field": "grp", "type": "nominal"}, "xOffset": {"field": "cond", "type": "nominal"}, "y": {"field": "level", "type": "quantitative"}, "text": {"field": "sig"}}}
      ]}
    ]
   },
   {"width": 2, "height": 1, "data": {"values": []}, "mark": "point"},
   {"vconcat": [
     {
      "width": 203, "height": 116,
      "title": {"text": "OCR vs ECAR", "anchor": "middle", "frame": "group", "fontSize": 13, "font": "Noto Sans CJK JP", "fontWeight": "bold", "offset": 0},
      "data": {"values": [
        {"grp": "No compound", "phase": "Baseline", "ecar": 0.98, "ocr": 2.0, "ecarLo": 0.98, "ecarHi": 0.98, "ocrLo": 2.0, "ocrHi": 2.0, "n1": "", "n2": ""},
        {"grp": "No compound", "phase": "Stressed", "ecar": 1.38, "ocr": 3.8, "ecarLo": 1.38, "ecarHi": 1.38, "ocrLo": 3.8, "ocrHi": 3.8, "n1": "", "n2": ""},
        {"grp": "RoFB", "phase": "Baseline", "ecar": 1.83, "ocr": 3.3, "ecarLo": 1.83, "ecarHi": 1.83, "ocrLo": 3.3, "ocrHi": 3.3, "n1": "", "n2": ""},
        {"grp": "RoFB", "phase": "Stressed", "ecar": 3.29, "ocr": 11.2, "ecarLo": 2.66, "ecarHi": 3.94, "ocrLo": 9.1, "ocrHi": 13.3, "n1": "", "n2": ""},
        {"grp": "RoFB+Capsaicin", "phase": "Baseline", "ecar": 5.28, "ocr": 6.4, "ecarLo": 4.33, "ecarHi": 6.36, "ocrLo": 6.4, "ocrHi": 6.4, "n1": "Baseline", "n2": "Phenotype"},
        {"grp": "RoFB+Capsaicin", "phase": "Stressed", "ecar": 8.76, "ocr": 26.4, "ecarLo": 7.15, "ecarHi": 10.24, "ocrLo": 21.3, "ocrHi": 32.0, "n1": "Stressed", "n2": "Phenotype"}]},
      "layer": [
       {"mark": {"type": "line", "color": "#444444", "strokeWidth": 1, "strokeDash": [2, 2]},
        "encoding": {
         "x": {"field": "ecar", "type": "quantitative", "scale": {"domain": [0, 12]},
               "axis": {"values": [0, 2, 4, 6, 8, 10, 12], "labelOverlap": false, "labelFontSize": 20, "labelFont": "Noto Sans CJK JP", "labelFontWeight": "bold", "tickSize": 4, "labelPadding": 7, "title": "ECAR (mpH/min/10⁴ cells)", "titleFont": "Noto Sans CJK JP", "titleFontSize": 11, "titlePadding": 3}},
         "y": {"field": "ocr", "type": "quantitative", "scale": {"domain": [0, 40]},
               "axis": {"values": [0, 10, 20, 30, 40], "labelOverlap": false, "labelFontSize": 20, "labelFont": "Noto Sans CJK JP", "labelFontWeight": "bold", "tickSize": 4, "labelPadding": 3, "title": "OCR (pmoles/min/10⁴ cells)", "titleFont": "Noto Sans CJK JP", "titleFontSize": 10.5, "titlePadding": 9}},
         "detail": {"field": "grp"}}},
       {"transform": [{"filter": "datum.ecarHi > datum.ecarLo"}],
        "layer": [
         {"mark": {"type": "rule", "strokeWidth": 1.3},
          "encoding": {"x": {"field": "ecarLo", "type": "quantitative"}, "x2": {"field": "ecarHi"}, "y": {"field": "ocr", "type": "quantitative"},
                       "stroke": {"field": "grp", "type": "nominal", "scale": {"range": ["#c8c8c8", "#808080", "#000000"]}, "legend": null}}},
         {"mark": {"type": "tick", "orient": "vertical", "size": 6, "thickness": 1.3},
          "encoding": {"x": {"field": "ecarLo", "type": "quantitative"}, "y": {"field": "ocr", "type": "quantitative"}, "fill": {"field": "grp", "type": "nominal", "scale": {"range": ["#c8c8c8", "#808080", "#000000"]}, "legend": null}}},
         {"mark": {"type": "tick", "orient": "vertical", "size": 6, "thickness": 1.3},
          "encoding": {"x": {"field": "ecarHi", "type": "quantitative"}, "y": {"field": "ocr", "type": "quantitative"}, "fill": {"field": "grp", "type": "nominal", "legend": null}}}
        ]},
       {"transform": [{"filter": "datum.ocrHi > datum.ocrLo"}],
        "layer": [
         {"mark": {"type": "rule", "strokeWidth": 1.3},
          "encoding": {"x": {"field": "ecar", "type": "quantitative"}, "y": {"field": "ocrLo", "type": "quantitative"}, "y2": {"field": "ocrHi"}, "stroke": {"field": "grp", "type": "nominal", "legend": null}}},
         {"mark": {"type": "tick", "orient": "horizontal", "size": 6, "thickness": 1.3},
          "encoding": {"x": {"field": "ecar", "type": "quantitative"}, "y": {"field": "ocrLo", "type": "quantitative"}, "fill": {"field": "grp", "type": "nominal", "legend": null}}},
         {"mark": {"type": "tick", "orient": "horizontal", "size": 6, "thickness": 1.3},
          "encoding": {"x": {"field": "ecar", "type": "quantitative"}, "y": {"field": "ocrHi", "type": "quantitative"}, "fill": {"field": "grp", "type": "nominal", "legend": null}}}
        ]},
       {"transform": [{"filter": "datum.phase == 'Baseline'"}],
        "mark": {"type": "point", "filled": true, "fill": "white", "strokeWidth": 1.8, "size": 80, "opacity": 1},
        "encoding": {"x": {"field": "ecar", "type": "quantitative"}, "y": {"field": "ocr", "type": "quantitative"},
                     "stroke": {"field": "grp", "type": "nominal", "legend": null},
                     "shape": {"field": "grp", "type": "nominal", "scale": {"domain": ["No compound", "RoFB", "RoFB+Capsaicin"], "range": ["circle", "square", "diamond"]}, "legend": {"orient": "none", "legendX": 158, "legendY": 57, "title": null, "labelExpr": "': ' + datum.label", "labelFont": "Noto Sans CJK JP", "labelFontWeight": 500, "labelFontSize": 12, "symbolSize": 140, "symbolStrokeWidth": 0, "strokeColor": "black", "fillColor": "white", "padding": 3, "rowPadding": 1, "labelOffset": 2}}}},
       {"transform": [{"filter": "datum.phase == 'Stressed'"}],
        "mark": {"type": "point", "filled": true, "size": 120, "opacity": 1},
        "encoding": {"x": {"field": "ecar", "type": "quantitative"}, "y": {"field": "ocr", "type": "quantitative"},
                     "color": {"field": "grp", "type": "nominal", "scale": {"domain": ["No compound", "RoFB", "RoFB+Capsaicin"], "range": ["#c8c8c8", "#808080", "#000000"]}, "legend": {"orient": "none", "legendX": 158, "legendY": 57, "title": null, "labelExpr": "': ' + datum.label", "labelFont": "Noto Sans CJK JP", "labelFontWeight": 500, "labelFontSize": 12, "symbolSize": 140, "symbolStrokeWidth": 0, "strokeColor": "black", "fillColor": "white", "padding": 3, "rowPadding": 1, "labelOffset": 2}},
                     "shape": {"field": "grp", "type": "nominal", "legend": {"orient": "none", "legendX": 158, "legendY": 57, "title": null, "labelExpr": "': ' + datum.label", "labelFont": "Noto Sans CJK JP", "labelFontWeight": 500, "labelFontSize": 12, "symbolSize": 140, "symbolStrokeWidth": 0, "strokeColor": "black", "fillColor": "white", "padding": 3, "rowPadding": 1, "labelOffset": 2}}}},
       {"transform": [{"filter": "datum.phase == 'Stressed' && datum.n1 != ''"}],
        "layer": [
         {"mark": {"type": "text", "baseline": "middle", "dy": -38, "fontSize": 8.5, "font": "Noto Sans CJK JP", "fontWeight": 500},
          "encoding": {"x": {"field": "ecar", "type": "quantitative"}, "y": {"field": "ocr", "type": "quantitative"}, "text": {"field": "n1"}}},
         {"mark": {"type": "text", "baseline": "middle", "dy": -28, "fontSize": 8.5, "font": "Noto Sans CJK JP", "fontWeight": 500},
          "encoding": {"x": {"field": "ecar", "type": "quantitative"}, "y": {"field": "ocr", "type": "quantitative"}, "text": {"field": "n2"}}}
        ]},
       {"transform": [{"filter": "datum.phase == 'Baseline' && datum.n1 != ''"}],
        "layer": [
         {"mark": {"type": "text", "baseline": "middle", "dx": 44, "dy": -4.5, "fontSize": 8.5, "font": "Noto Sans CJK JP", "fontWeight": 500},
          "encoding": {"x": {"field": "ecar", "type": "quantitative"}, "y": {"field": "ocr", "type": "quantitative"}, "text": {"field": "n1"}}},
         {"mark": {"type": "text", "baseline": "middle", "dx": 44, "dy": 4.5, "fontSize": 8.5, "font": "Noto Sans CJK JP", "fontWeight": 500},
          "encoding": {"x": {"field": "ecar", "type": "quantitative"}, "y": {"field": "ocr", "type": "quantitative"}, "text": {"field": "n2"}}}
        ]}
      ]
     }
    ],
    "resolve": {"scale": {"color": "independent", "shape": "independent", "opacity": "independent", "stroke": "independent", "fill": "independent", "xOffset": "independent", "x": "independent", "y": "independent"}, "legend": {"color": "independent", "shape": "independent", "opacity": "independent", "stroke": "independent", "fill": "independent"}},
    "title": {"text": "G", "anchor": "start", "frame": "bounds", "fontSize": 25, "dx": -33, "offset": 0, "dy": 14}
   }
  ],
  "spacing": 0,
  "resolve": {"scale": {"color": "independent", "shape": "independent", "opacity": "independent", "stroke": "independent", "fill": "independent", "xOffset": "independent", "x": "independent", "y": "independent"}, "legend": {"color": "independent", "shape": "independent", "opacity": "independent", "stroke": "independent", "fill": "independent"}}
 }
]
}
